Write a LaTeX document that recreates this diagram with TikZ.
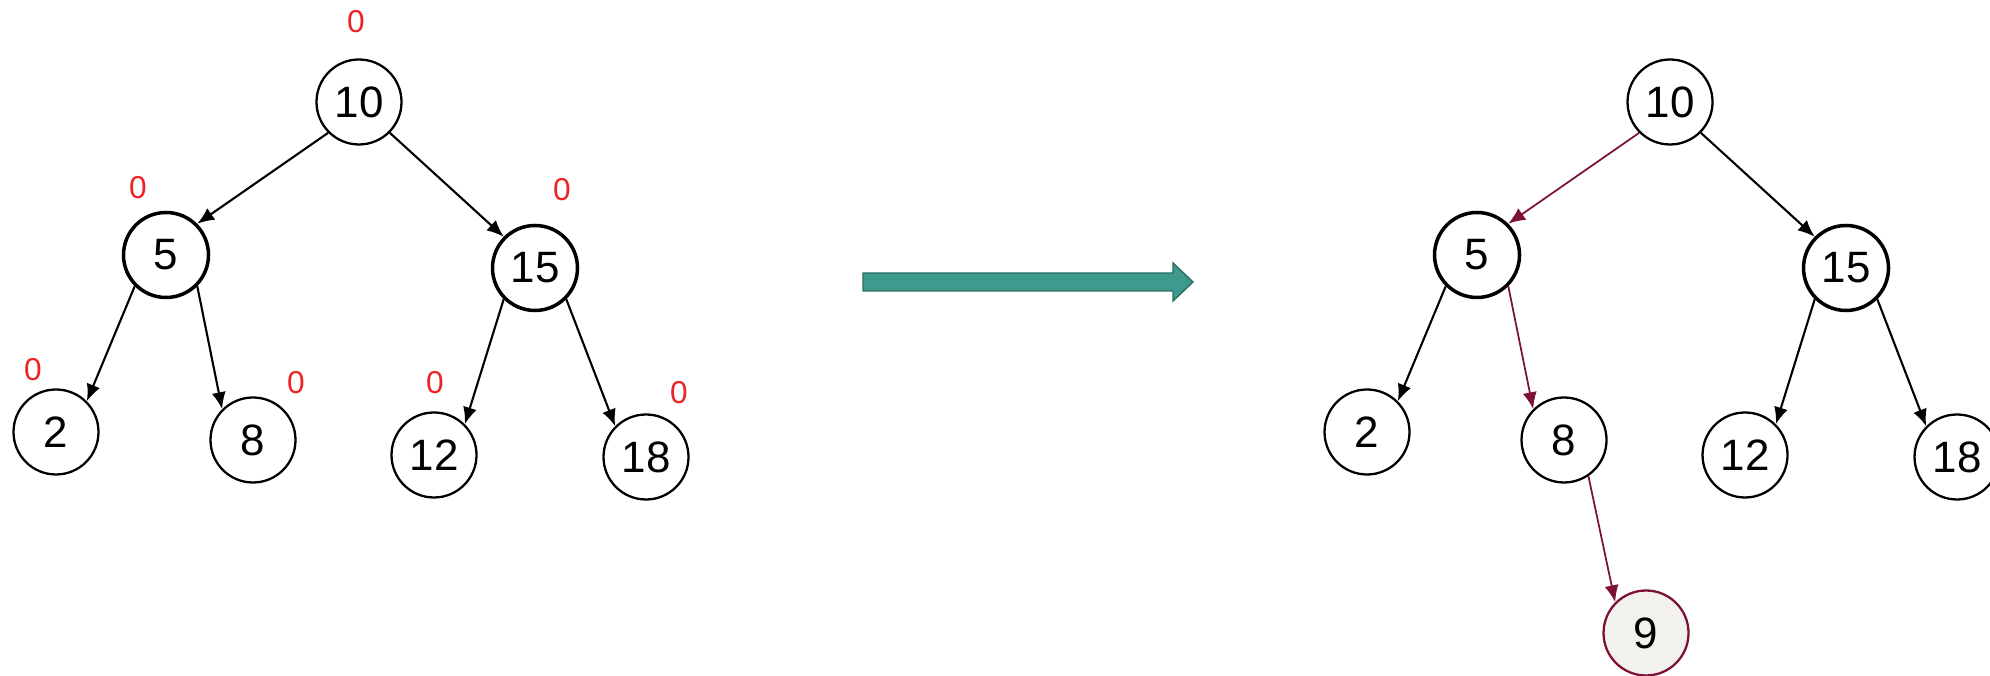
\documentclass[tikz,border=0pt]{standalone}
\usepackage{fontspec}
\setmainfont{Liberation Sans}
\usetikzlibrary{arrows.meta}

\definecolor{zerored}{RGB}{238,36,36}
\definecolor{pathred}{RGB}{125,18,52}
\definecolor{newfill}{RGB}{242,241,236}
\definecolor{tealfill}{RGB}{62,154,140}
\definecolor{tealline}{RGB}{44,110,100}

\begin{document}
\begin{tikzpicture}[>={Latex[length=4.8pt,width=4pt]},
	key/.style={draw, circle, minimum size=0.85cm, inner sep=0pt, line width=0.65pt,
		font=\fontsize{12.5}{14}\selectfont},
	heavy/.style={key, line width=1pt},
	bal/.style={text=zerored, inner sep=0pt, font=\fontsize{9}{10}\selectfont},
	link/.style={->, line width=0.6pt},
	hotlink/.style={->, line width=0.5pt, draw=pathred}]
		
		\useasboundingbox (0,0) rectangle (19.90,6.76);
		
		% tree before insertion
		\node[key]   (l10) at (3.59,5.74) {10};
		\node[heavy] (l5)  at (1.66,4.21) {5};
		\node[heavy] (l15) at (5.35,4.08) {15};
		\node[key]   (l2)  at (0.56,2.44) {2};
		\node[key]   (l8)  at (2.53,2.36) {8};
		\node[key]   (l12) at (4.34,2.21) {12};
		\node[key]   (l18) at (6.46,2.19) {18};
		
		\draw[link] (l10.south west) -- (l5.north east);
		\draw[link] (l10.south east) -- (l15.north west);
		\draw[link] (l5.south west) -- (l2.north east);
		\draw[link] (l5.south east) -- (l8.north west);
		\draw[link] (l15.south west) -- (l12.north east);
		\draw[link] (l15.south east) -- (l18.north west);
		
		% balance factors
		\node[bal] (b10) at (3.56,6.54) {0};
		\node[bal] (b5)  at (1.38,4.88) {0};
		\node[bal] (b15) at (5.62,4.86) {0};
		\node[bal] (b2)  at (0.33,3.06) {0};
		\node[bal] (b8)  at (2.96,2.93) {0};
		\node[bal] (b12) at (4.35,2.93) {0};
		\node[bal] (b18) at (6.79,2.83) {0};
		
		% block arrow
		\draw[tealline, fill=tealfill, line width=0.4pt]
			(8.63,3.85) -- (11.73,3.85) -- (11.73,3.75) -- (11.93,3.94)
			-- (11.73,4.13) -- (11.73,4.03) -- (8.63,4.03) -- cycle;
		
		% tree after inserting 9
		\node[key]   (r10) at (16.70,5.74) {10};
		\node[heavy] (r5)  at (14.77,4.21) {5};
		\node[heavy] (r15) at (18.46,4.08) {15};
		\node[key]   (r2)  at (13.67,2.44) {2};
		\node[key]   (r8)  at (15.64,2.36) {8};
		\node[key]   (r12) at (17.45,2.21) {12};
		\node[key]   (r18) at (19.57,2.19) {18};
		\node[key, draw=pathred, fill=newfill] (r9) at (16.46,0.43) {9};
		
		\draw[hotlink] (r10.south west) -- (r5.north east);
		\draw[link] (r10.south east) -- (r15.north west);
		\draw[link] (r5.south west) -- (r2.north east);
		\draw[hotlink] (r5.south east) -- (r8.north west);
		\draw[link] (r15.south west) -- (r12.north east);
		\draw[link] (r15.south east) -- (r18.north west);
		\draw[hotlink] (r8.-56) -- (r9.north west);
		
	\end{tikzpicture}
\end{document}
